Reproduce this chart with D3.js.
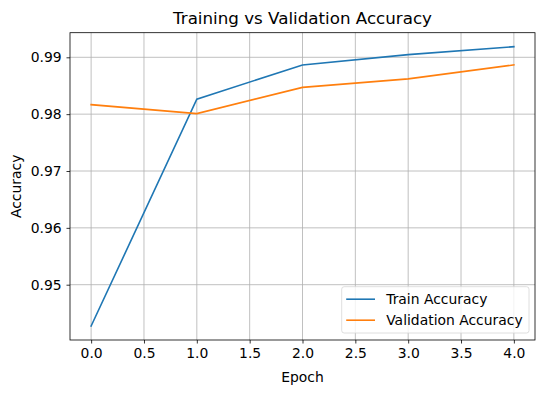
<!DOCTYPE html>
<html>
<head>
<meta charset="utf-8">
<script src="https://cdn.jsdelivr.net/npm/d3@7"></script>
<style>
  body { margin: 0; background: #fff; }
  svg { font-family: 'DejaVu Sans', sans-serif; }
</style>
</head>
<body>
<svg id="chart" width="545" height="393"></svg>
<script>
const epochs = [0, 1, 2, 3, 4];
const trainAcc = [0.94273, 0.98262, 0.98866, 0.99047, 0.99187];
const valAcc = [0.98167, 0.98010, 0.98471, 0.98621, 0.98866];
const xTicks = [0, 0.5, 1, 1.5, 2, 2.5, 3, 3.5, 4];
const yTicks = [0.95, 0.96, 0.97, 0.98, 0.99];
const seriesNames = ['Train Accuracy', 'Validation Accuracy'];
const colors = ['#1f77b4', '#ff7f0e'];

const width = 545;
const height = 393;
const margin = { top: 32.7, right: 10, bottom: 53, left: 70 };
const fs = 13.9;

const svg = d3.select('#chart');

const allVals = trainAcc.concat(valAcc);
const yMin = d3.min(allVals);
const yMax = d3.max(allVals);
const pad = (yMax - yMin) * 0.05;

const x = d3.scaleLinear()
  .domain([-0.2, 4.2])
  .range([margin.left, width - margin.right]);
const y = d3.scaleLinear()
  .domain([yMin - pad, yMax + pad])
  .range([height - margin.bottom, margin.top]);

// grid
svg.append('g')
  .selectAll('line')
  .data(xTicks)
  .join('line')
  .attr('x1', (d) => x(d)).attr('x2', (d) => x(d))
  .attr('y1', y.range()[0]).attr('y2', y.range()[1])
  .attr('stroke', '#b0b0b0').attr('stroke-width', 0.8);
svg.append('g')
  .selectAll('line')
  .data(yTicks)
  .join('line')
  .attr('y1', (d) => y(d)).attr('y2', (d) => y(d))
  .attr('x1', x.range()[0]).attr('x2', x.range()[1])
  .attr('stroke', '#b0b0b0').attr('stroke-width', 0.8);

// lines
const line = d3.line()
  .x((d, i) => x(epochs[i]))
  .y((d) => y(d));
[trainAcc, valAcc].forEach((s, i) => {
  svg.append('path')
    .datum(s)
    .attr('fill', 'none')
    .attr('stroke', colors[i])
    .attr('stroke-width', 1.6)
    .attr('stroke-linecap', 'square')
    .attr('d', line);
});

// axes
const xAxis = svg.append('g')
  .attr('transform', `translate(0,${height - margin.bottom})`)
  .call(d3.axisBottom(x).tickValues(xTicks).tickFormat(d3.format('.1f')).tickSize(3.5).tickPadding(4.9));
const yAxis = svg.append('g')
  .attr('transform', `translate(${margin.left},0)`)
  .call(d3.axisLeft(y).tickValues(yTicks).tickFormat(d3.format('.2f')).tickSize(3.5).tickPadding(4.9));
[xAxis, yAxis].forEach((g) => {
  g.select('.domain').remove();
  g.selectAll('line').attr('stroke', '#000').attr('stroke-width', 0.8);
  g.selectAll('text').attr('font-size', fs).attr('fill', '#000').attr('font-family', 'DejaVu Sans');
});

// frame
svg.append('rect')
  .attr('x', margin.left).attr('y', margin.top)
  .attr('width', width - margin.left - margin.right)
  .attr('height', height - margin.top - margin.bottom)
  .attr('fill', 'none').attr('stroke', '#000').attr('stroke-width', 0.8);

// labels
svg.append('text')
  .attr('x', (margin.left + width - margin.right) / 2)
  .attr('y', 23.5)
  .attr('text-anchor', 'middle')
  .attr('font-size', 16.7)
  .text('Training vs Validation Accuracy');
svg.append('text')
  .attr('x', (margin.left + width - margin.right) / 2)
  .attr('y', 382)
  .attr('text-anchor', 'middle')
  .attr('font-size', fs)
  .text('Epoch');
svg.append('text')
  .attr('transform', `translate(21,${(margin.top + height - margin.bottom) / 2}) rotate(-90)`)
  .attr('text-anchor', 'middle')
  .attr('font-size', fs)
  .text('Accuracy');

// legend
const legend = svg.append('g').attr('transform', 'translate(341.7,286.7)');
legend.append('rect')
  .attr('width', 187.3).attr('height', 46.3)
  .attr('rx', 2.5)
  .attr('fill', '#fff').attr('fill-opacity', 0.8)
  .attr('stroke', '#d6d6d6').attr('stroke-width', 0.8);
seriesNames.forEach((name, i) => {
  const row = legend.append('g').attr('transform', `translate(0,${12.5 + i * 21})`);
  row.append('line')
    .attr('x1', 4.5).attr('x2', 33.3)
    .attr('stroke', colors[i]).attr('stroke-width', 1.6);
  row.append('text')
    .attr('x', 44.5).attr('dy', '0.35em')
    .attr('font-size', fs)
    .text(name);
});
</script>
</body>
</html>
